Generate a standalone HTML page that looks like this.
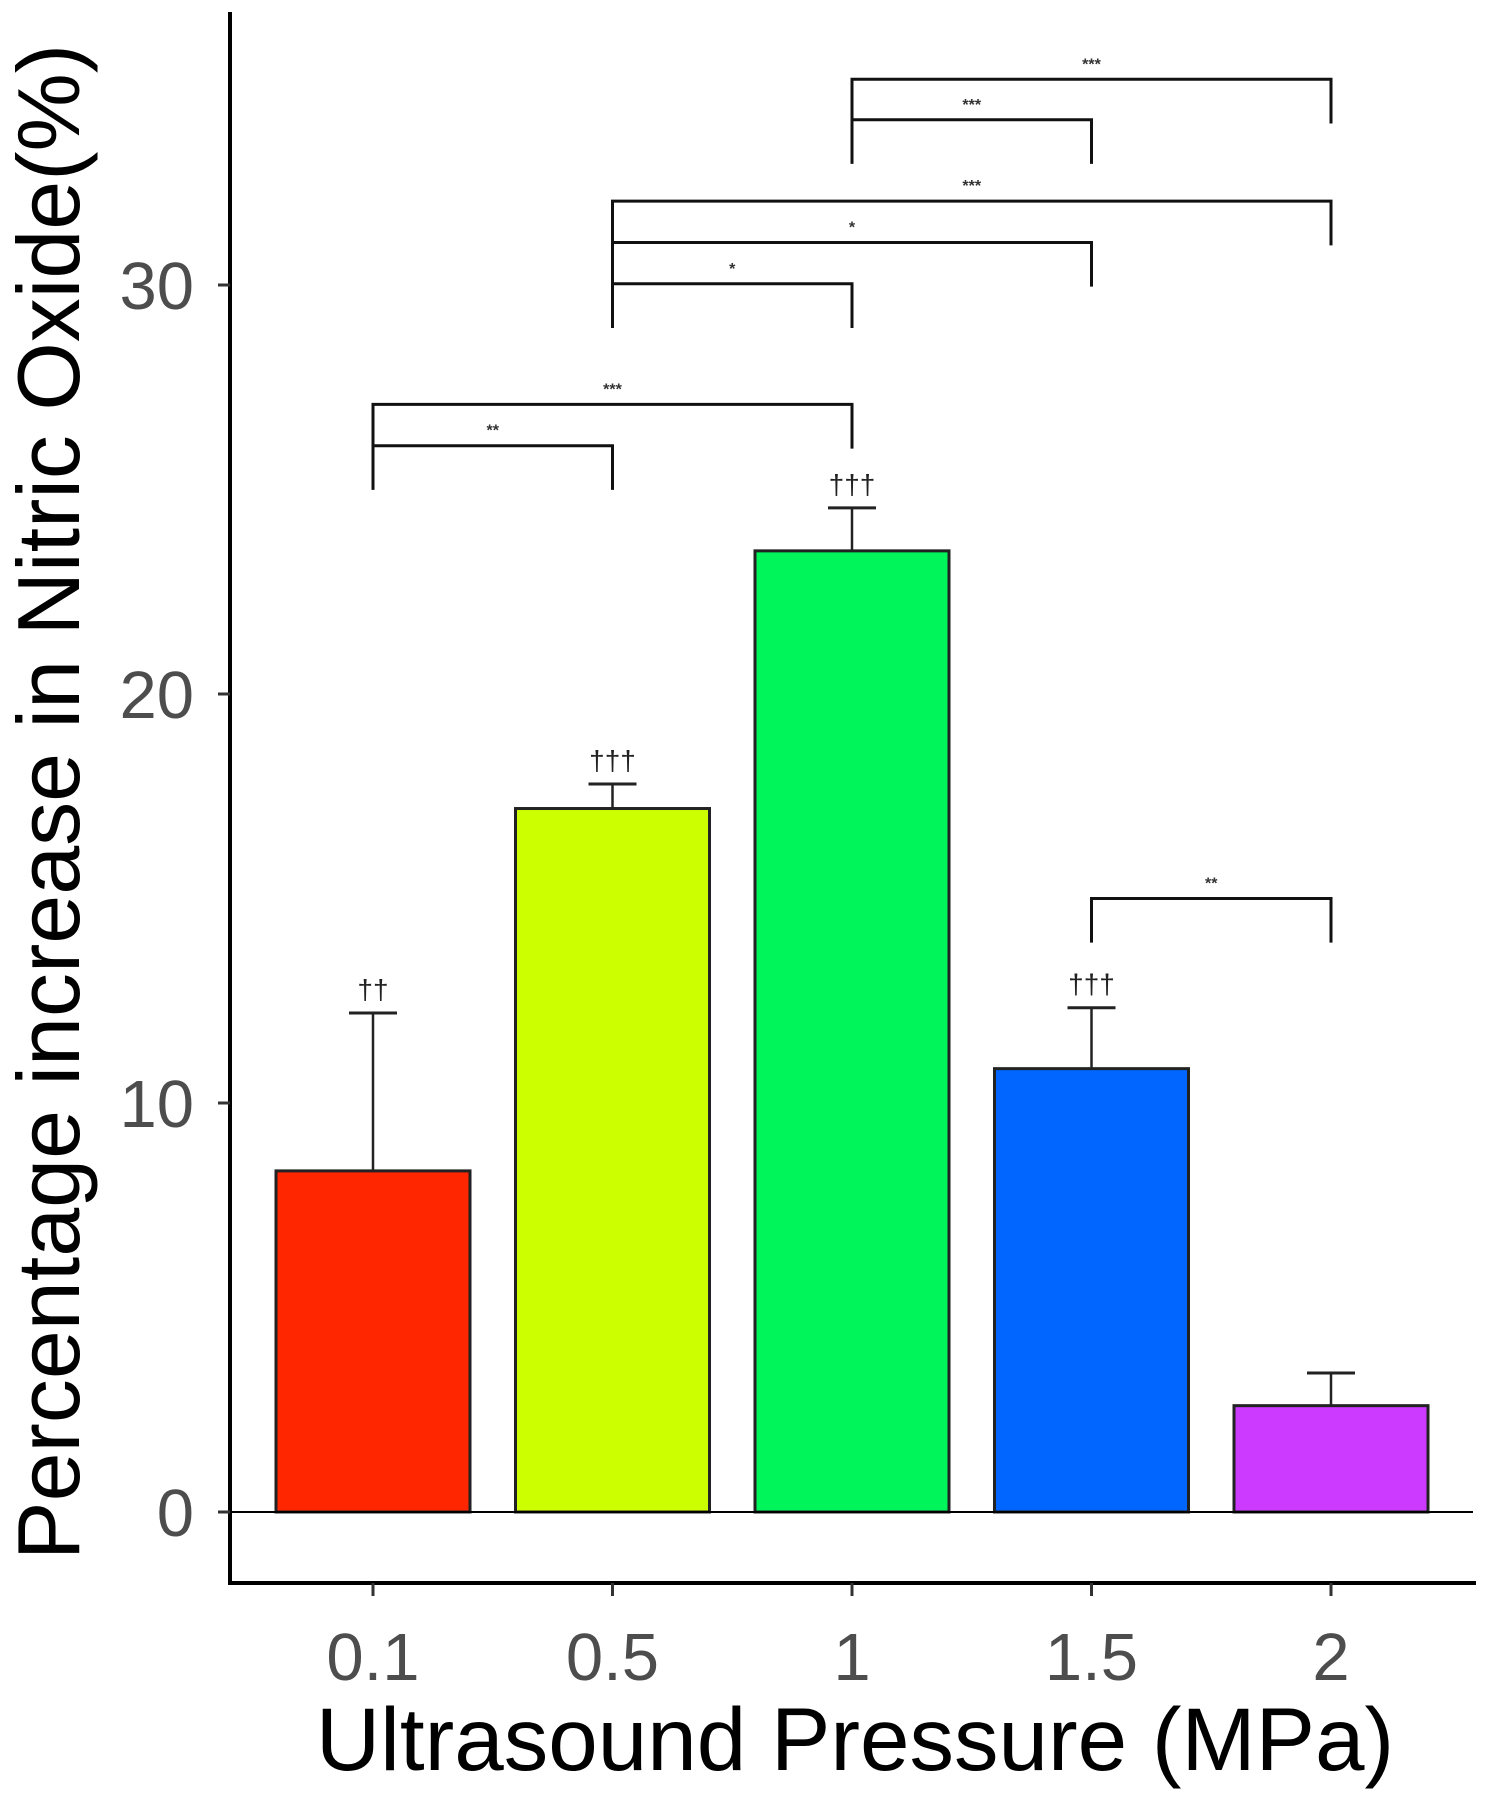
<!DOCTYPE html>
<html><head><meta charset="utf-8"><style>
html,body{margin:0;padding:0;background:#fff}
svg{display:block;font-family:"Liberation Sans",sans-serif}
</style></head><body>
<svg id="chart" width="1486" height="1800" viewBox="0 0 1486 1800"></svg>
<script>
const categories = ["0.1","0.5","1","1.5","2"];
const means = [8.34, 17.2, 23.5, 10.84, 2.6];
const errors = [3.86, 0.6, 1.05, 1.49, 0.8];
const colors = ["#ff2600","#ccff00","#00f55a","#0066ff","#cc3aff"];
const daggers = ["††","†††","†††","†††",""];
const yTicks = [0,10,20,30];
const brackets = [
  {a:0,b:1,y:26.07,label:"**"},
  {a:0,b:2,y:27.08,label:"***"},
  {a:1,b:2,y:30.03,label:"*"},
  {a:1,b:3,y:31.04,label:"*"},
  {a:1,b:4,y:32.05,label:"***"},
  {a:2,b:3,y:34.04,label:"***"},
  {a:2,b:4,y:35.03,label:"***"},
  {a:3,b:4,y:15.0,label:"**"}
];
const NS="http://www.w3.org/2000/svg";
const svg=document.getElementById('chart');
const y0=1512, ppu=40.9;
function yS(v){return y0-v*ppu;}
function xS(i){return 373+i*239.5;}
function mk(t,attrs,parent){const e=document.createElementNS(NS,t);for(const k in attrs)e.setAttribute(k,attrs[k]);(parent||svg).appendChild(e);return e;}
let e;
e=mk('line',{x1:230,y1:12,x2:230,y2:1585,stroke:'#000','stroke-width':4});


e=mk('line',{x1:228,y1:1583,x2:1476,y2:1583,stroke:'#000','stroke-width':4});


yTicks.forEach(t=>{
  e=mk('line',{x1:218,y1:yS(t),x2:230,y2:yS(t),stroke:'#333','stroke-width':3});
  
  
  e=mk('text',{x:194,y:yS(t)+24,'text-anchor':'end','font-size':67,fill:'#4d4d4d'});
  e.textContent=t;
  
  
});
categories.forEach((c,i)=>{
  e=mk('line',{x1:xS(i),y1:1583,x2:xS(i),y2:1596,stroke:'#333','stroke-width':3});
  
  
  e=mk('text',{x:xS(i),y:1680,'text-anchor':'middle','font-size':67,fill:'#4d4d4d'});
  e.textContent=c;
  
  
});
const bw=194;
means.forEach((m,i)=>{
  const x=xS(i);
  e=mk('line',{x1:x,y1:yS(m),x2:x,y2:yS(m+errors[i]),stroke:'#222','stroke-width':2.5});
  
  
  e=mk('line',{x1:x-24,y1:yS(m+errors[i]),x2:x+24,y2:yS(m+errors[i]),stroke:'#222','stroke-width':3});
  
  
  e=mk('rect',{x:x-bw/2,y:yS(m),width:bw,height:m*ppu,fill:colors[i],stroke:'#222','stroke-width':3});
  
  
  if(daggers[i]){
    e=mk('text',{x:x,y:yS(m+errors[i])-14,'text-anchor':'middle','font-size':28,fill:'#222'});
    e.textContent=daggers[i];
    
    
  }
});
e=mk('line',{x1:230,y1:y0,x2:1473,y2:y0,stroke:'#000','stroke-width':2});


brackets.forEach(b=>{
  const x1=xS(b.a),x2=xS(b.b),y=yS(b.y),yl=yS(b.y-1.08);
  e=mk('polyline',{points:`${x1},${yl} ${x1},${y} ${x2},${y} ${x2},${yl}`,fill:'none',stroke:'#111','stroke-width':3});
  
  
  e=mk('text',{x:(x1+x2)/2,y:y-10,'text-anchor':'middle','font-size':16,fill:'#333','font-weight':'bold'});
  e.textContent=b.label;
  
  
});
e=mk('text',{x:855,y:1770,'text-anchor':'middle','font-size':89,fill:'#000'});
e.textContent='Ultrasound Pressure (MPa)';


e=mk('text',{x:0,y:0,'text-anchor':'middle','font-size':88,fill:'#000',transform:'translate(79,802) rotate(-90)'});
e.textContent='Percentage increase in Nitric Oxide(%)';


</script>
</body></html>
